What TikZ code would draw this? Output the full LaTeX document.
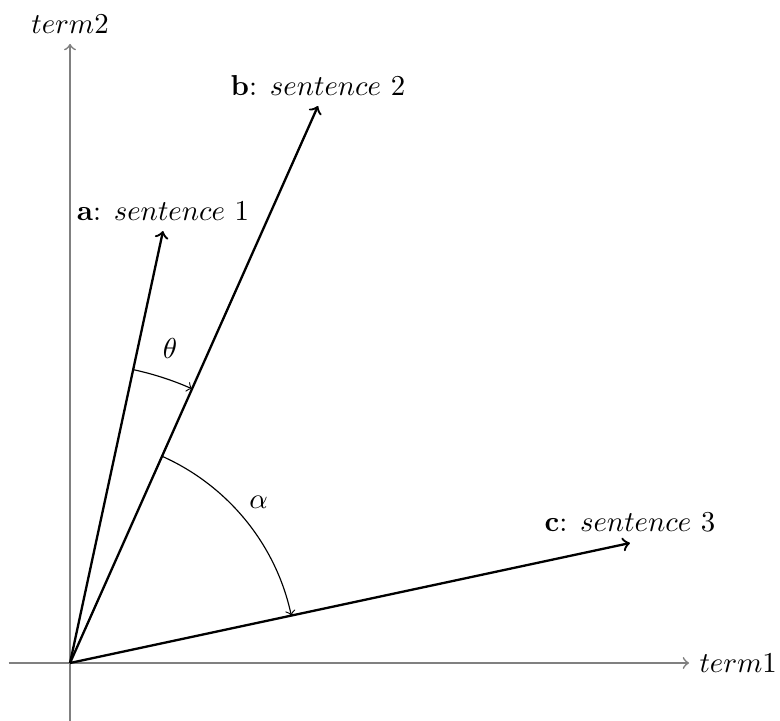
\documentclass[tikz,border=0pt]{standalone}
\usetikzlibrary{calc}
\tikzset{
  axis/.style={->,semithick,draw=gray},
  vec/.style={->,thick},
  angarc/.style={->,thin},
}
\begin{document}
\begin{tikzpicture}
  \useasboundingbox (-0.854,-0.707) rectangle (8.659,8.086);
  % axes
  \coordinate (O) at (0,0);
  \coordinate (xmin) at (-0.75,0);
  \coordinate (xmax) at (7.55,0);
  \coordinate (ymin) at (0,-0.71);
  \coordinate (ymax) at (0,7.55);
  \draw[axis] (xmin) -- (xmax) node[right] (t1) {$term1$};
  \draw[axis] (ymin) -- (ymax) node[above] (t2) {$term2$};
  % sentence vectors
  \coordinate (a) at (1.134,5.268);
  \coordinate (b) at (3.024,6.793);
  \coordinate (c) at (6.829,1.463);
  \draw[vec] (O) -- (a) node[above] (la) {$\mathbf{a}$: $sentence$ 1};
  \draw[vec] (O) -- (b) node[above] (lb) {$\mathbf{b}$: $sentence$ 2};
  \draw[vec] (O) -- (c) node[above] (lc) {$\mathbf{c}$: $sentence$ 3};
  % angles
  \draw[angarc] let \p1=(a), \p2=(b), \n1={atan2(\y1,\x1)}, \n2={atan2(\y2,\x2)} in
    ($(O)!3.66cm!(a)$) arc[start angle=\n1, end angle=\n2, radius=3.66cm];
  \draw[angarc] let \p1=(b), \p2=(c), \n1={atan2(\y1,\x1)}, \n2={atan2(\y2,\x2)} in
    ($(O)!2.76cm!(b)$) arc[start angle=\n1, end angle=\n2, radius=2.76cm];
  \node (th) at (1.22,3.84) {$\theta$};
  \node (al) at (2.30,1.96) {$\alpha$};
\end{tikzpicture}
\end{document}
